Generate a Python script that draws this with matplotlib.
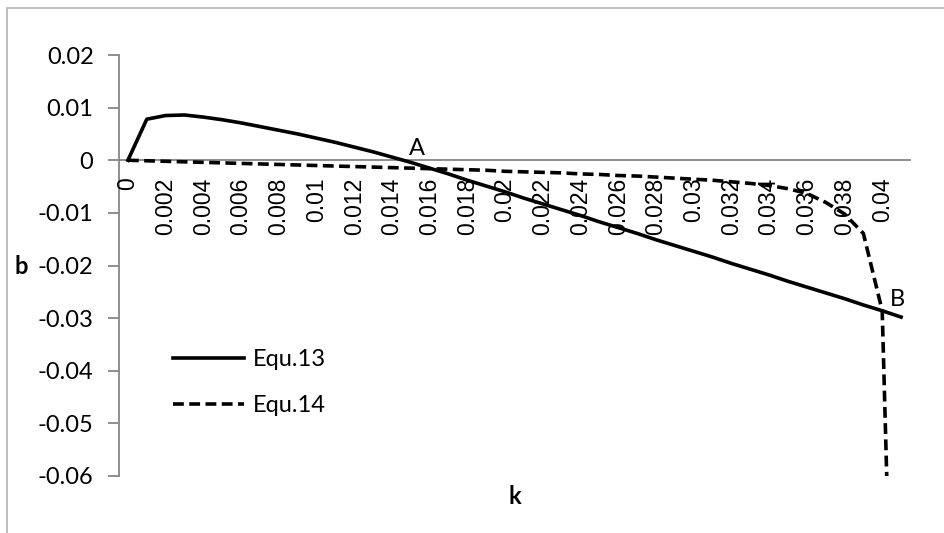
import matplotlib
matplotlib.use("Agg")
import matplotlib.pyplot as plt
from matplotlib.patches import Rectangle
import numpy as np

# ---- data ----
k = [round(i * 0.001, 3) for i in range(42)]
equ13 = [0.0, 0.0078, 0.0085, 0.0086, 0.0082, 0.0077, 0.0071, 0.0064, 0.0057, 0.0050,
         0.0042, 0.0034, 0.0025, 0.0016, 0.0006, -0.0004, -0.0015, -0.0026, -0.0038, -0.0049,
         -0.0060, -0.0072, -0.0083, -0.0094, -0.0105, -0.0117, -0.0128, -0.0139, -0.0151, -0.0162,
         -0.0173, -0.0184, -0.0196, -0.0207, -0.0218, -0.0230, -0.0241, -0.0252, -0.0263, -0.0275,
         -0.0286, -0.0298]
equ14 = [0.0, -0.0001, -0.0002, -0.0003, -0.0004, -0.0005, -0.0006, -0.0007, -0.0008, -0.0009,
         -0.0010, -0.0011, -0.0012, -0.0013, -0.0014, -0.0015, -0.0016, -0.0017, -0.0018, -0.0019,
         -0.0021, -0.0022, -0.0023, -0.0024, -0.0026, -0.0027, -0.0029, -0.0030, -0.0032, -0.0034,
         -0.0036, -0.0038, -0.0041, -0.0044, -0.0048, -0.0054, -0.0063, -0.0080, -0.0102, -0.0139,
         -0.0286, -0.16]
xtick_vals = [round(i * 0.002, 3) for i in range(21)]
xtick_labels = ["0", "0.002", "0.004", "0.006", "0.008", "0.01", "0.012", "0.014", "0.016",
                "0.018", "0.02", "0.022", "0.024", "0.026", "0.028", "0.03", "0.032", "0.034",
                "0.036", "0.038", "0.04"]
ytick_vals = [0.02, 0.01, 0, -0.01, -0.02, -0.03, -0.04, -0.05, -0.06]
ytick_labels = ["0.02", "0.01", "0", "-0.01", "-0.02", "-0.03", "-0.04", "-0.05", "-0.06"]

W, H = 944, 533
fig = plt.figure(figsize=(W / 100, H / 100), dpi=100)
fig.patch.set_facecolor("white")

# outer chart border (extends beyond the right/bottom edge)
fig.patches.append(Rectangle((7 / W, -0.2), 1.5, 1 - 8 / H + 0.2, transform=fig.transFigure,
                             fill=False, edgecolor="#b4b4b4", linewidth=1.2))

left, right, top, bottom = 118.5 / W, 910.5 / W, 1 - 55 / H, 1 - 476 / H
ax = fig.add_axes([left, bottom, right - left, top - bottom])
ax.set_facecolor("none")

axis_col = "#868686"
ax.plot(k, equ13, color="black", lw=2.6, solid_joinstyle="round", label="Equ.13")
ax.plot(k, equ14, color="black", lw=2.6, linestyle=(0, (3.0, 1.5)), label="Equ.14")

ax.set_xlim(-0.0005, 0.0415)
ax.set_ylim(-0.06, 0.02)

for s in ["top", "right", "bottom"]:
    ax.spines[s].set_visible(False)
ax.spines["left"].set_color(axis_col)
ax.spines["left"].set_linewidth(1.3)
ax.axhline(0, color=axis_col, lw=1.3, zorder=1)

ax.set_yticks(ytick_vals)
ax.set_yticklabels(ytick_labels, fontfamily="Lato", fontsize=17)
ax.tick_params(axis="y", direction="out", length=8, width=1.3, color=axis_col, pad=10)

ax.set_xticks([])
for xv, lab in zip(xtick_vals, xtick_labels):
    ax.text(xv, -0.0033, lab, rotation=90, ha="center", va="top",
            fontfamily="Liberation Sans", fontsize=16.5, color="black")

ax.text(0.0153, 0.0002, "A", ha="center", va="bottom", fontfamily="Lato", fontsize=17)
ax.text(0.0408, -0.0265, "B", ha="center", va="center", fontfamily="Lato", fontsize=17)

fig.text(21 / W, 1 - 267 / H, "b", ha="center", va="center", fontfamily="Lato",
         fontweight="bold", fontsize=17)
fig.text(515 / W, 1 - 497 / H, "k", ha="center", va="center", fontfamily="Lato",
         fontweight="bold", fontsize=17)

leg = ax.legend(loc="upper left", bbox_to_anchor=(173 / W, 1 - 349 / H),
                bbox_transform=fig.transFigure, frameon=False, prop={"family": "Lato", "size": 17},
                handlelength=3.0, handletextpad=0.4, labelspacing=1.05, borderpad=0,
                borderaxespad=0)

fig.savefig("out.png", dpi=100, facecolor="white")
